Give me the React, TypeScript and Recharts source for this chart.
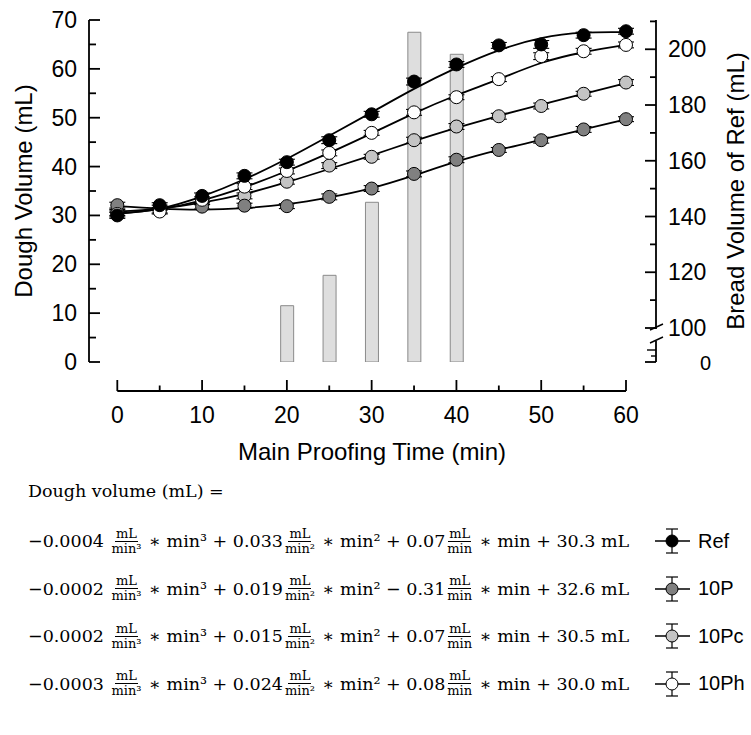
import React from 'react';
import { ComposedChart, Line, Bar, XAxis, YAxis, ErrorBar } from 'recharts';

// ---- data ----
const times = [0, 5, 10, 15, 20, 25, 30, 35, 40, 45, 50, 55, 60];

const refObs = [30.0, 32.1, 34.0, 38.1, 40.9, 45.4, 50.7, 57.4, 60.9, 64.8, 65.0, 66.9, 67.7];
const p10Obs = [32.1, 31.6, 31.8, 32.0, 31.9, 33.8, 35.5, 38.5, 41.4, 43.4, 45.4, 47.6, 49.7];
const pc10Obs = [30.6, 31.0, 32.8, 34.0, 36.9, 40.2, 42.0, 45.4, 48.2, 50.3, 52.4, 54.9, 57.2];
const ph10Obs = [30.3, 30.8, 33.2, 35.9, 39.1, 42.8, 46.9, 51.1, 54.2, 57.9, 62.6, 63.6, 64.9];

const refErr = [0.6, 0.5, 0.6, 0.6, 0.6, 0.7, 0.6, 0.7, 0.6, 0.6, 0.8, 0.6, 0.6];
const p10Err = [0.6, 0.5, 0.5, 0.5, 0.5, 0.6, 0.6, 0.6, 0.6, 0.5, 0.6, 0.6, 0.5];
const pc10Err = [0.6, 0.5, 0.6, 0.6, 0.5, 0.6, 0.5, 0.6, 0.6, 0.6, 0.6, 0.5, 0.6];
const ph10Err = [0.6, 0.5, 0.6, 0.6, 0.6, 0.6, 0.5, 0.6, 0.5, 0.5, 0.7, 0.6, 0.6];

// fitted curves
const refFit = [30.3, 31.4, 33.9, 37.4, 41.6, 46.3, 51.1, 55.9, 60.2, 63.8, 66.3, 67.4, 67.5];
const p10Fit = [31.9, 31.4, 31.2, 31.5, 32.3, 33.7, 35.6, 38.2, 41.0, 43.4, 45.5, 47.6, 49.7];
const pc10Fit = [30.8, 31.4, 32.6, 34.4, 36.8, 39.5, 42.3, 45.2, 47.9, 50.4, 52.7, 54.9, 57.1];
const ph10Fit = [30.4, 31.3, 33.1, 35.8, 39.1, 42.8, 46.8, 50.9, 54.6, 57.9, 61.2, 63.4, 64.9];

const breadTimes = [20, 25, 30, 35, 40];
const breadVol = [108.0, 118.9, 145.1, 206.1, 198.2];

const xTicks = [0, 5, 10, 15, 20, 25, 30, 35, 40, 45, 50, 55, 60];
const leftTicks = [0, 5, 10, 15, 20, 25, 30, 35, 40, 45, 50, 55, 60, 65, 70];
const rightBottom = 87.8;
const rightTop = 210.5;
const rightTicks = [rightBottom, 100, 110, 120, 130, 140, 150, 160, 170, 180, 190, 200, 210];

const seriesNames = ['Ref', '10P', '10Pc', '10Ph'];
const seriesFills = ['#000000', '#808080', '#c4c4c4', '#ffffff'];

const equationCoefs = [
  ['−0.0004', '+ 0.033', '+ 0.07', '+ 30.3 mL'],
  ['−0.0002', '+ 0.019', '− 0.31', '+ 32.6 mL'],
  ['−0.0002', '+ 0.015', '+ 0.07', '+ 30.5 mL'],
  ['−0.0003', '+ 0.024', '+ 0.08', '+ 30.0 mL'],
];

const rows = times.map((t, i) => {
  const bi = breadTimes.indexOf(t);
  return {
    t,
    refObs: refObs[i], refErr: refErr[i], refFit: refFit[i],
    p10Obs: p10Obs[i], p10Err: p10Err[i], p10Fit: p10Fit[i],
    pc10Obs: pc10Obs[i], pc10Err: pc10Err[i], pc10Fit: pc10Fit[i],
    ph10Obs: ph10Obs[i], ph10Err: ph10Err[i], ph10Fit: ph10Fit[i],
    bread: bi >= 0 ? breadVol[bi] : null,
  };
});

const SANS = '"Liberation Sans", Arial, Helvetica, sans-serif';
const SERIF = '"DejaVu Serif", "Liberation Serif", serif';
const TICK_FS = 23;
const AX_W = 1.8;

const LeftTick = (props: any) => {
  const { x, y, payload } = props;
  const v = payload.value;
  const major = v % 10 === 0;
  return (
    <g>
      <line x1={x} x2={x + (major ? 11 : 7)} y1={y} y2={y} stroke="#000" strokeWidth={AX_W} />
      {major && (
        <text x={x - 12} y={y} textAnchor="end" dominantBaseline="central" fontSize={TICK_FS} fontFamily={SANS} fill="#000">
          {v}
        </text>
      )}
    </g>
  );
};

const RightTick = (props: any) => {
  const { x, y, payload } = props;
  const v = payload.value;
  if (v === rightBottom) {
    return (
      <g>
        <line x1={x - 11} x2={x} y1={y} y2={y} stroke="#000" strokeWidth={AX_W} />
        <line x1={x - 5} x2={x} y1={y - 6} y2={y - 6} stroke="#000" strokeWidth={1.4} />
        <line x1={x - 9} x2={x} y1={y - 12} y2={y - 12} stroke="#000" strokeWidth={1.4} />
        <text x={x + 44} y={y + 1} textAnchor="start" dominantBaseline="central" fontSize={TICK_FS - 3} fontFamily={SANS} fill="#000">
          0
        </text>
      </g>
    );
  }
  const major = v % 20 === 0;
  return (
    <g>
      {v === 100 && (
        <g>
          <rect x={x - 3} y={y + 1} width={6} height={12} fill="#fff" />
          <line x1={x - 6} y1={y + 2} x2={x + 7} y2={y - 4} stroke="#000" strokeWidth={1.4} />
          <line x1={x - 6} y1={y + 15} x2={x + 7} y2={y + 9} stroke="#000" strokeWidth={1.4} />
        </g>
      )}
      <line x1={x - (major ? 11 : 6)} x2={x} y1={y} y2={y} stroke="#000" strokeWidth={AX_W} />
      {major && (
        <text x={x + 12} y={y} textAnchor="start" dominantBaseline="central" fontSize={TICK_FS} fontFamily={SANS} fill="#000">
          {v}
        </text>
      )}
    </g>
  );
};

const XTick = (props: any) => {
  const { x, y, payload } = props;
  const v = payload.value;
  const major = v % 10 === 0;
  return (
    <g>
      <line x1={x} x2={x} y1={y} y2={y - (major ? 11 : 5.5)} stroke="#000" strokeWidth={AX_W} />
      {major && (
        <text x={x} y={y + 32} textAnchor="middle" fontSize={TICK_FS} fontFamily={SANS} fill="#000">
          {v}
        </text>
      )}
    </g>
  );
};

const Frac = ({ den }: { den: string }) => (
  <span
    style={{
      display: 'inline-flex',
      flexDirection: 'column',
      alignItems: 'center',
      fontSize: 13,
      lineHeight: '14px',
      margin: '0 2px',
    }}
  >
    <span style={{ borderBottom: '1px solid #000', padding: '0 1px' }}>mL</span>
    <span>{den}</span>
  </span>
);

const EqRow = ({ coefs, top }: { coefs: string[]; top: number }) => (
  <div
    style={{
      position: 'absolute',
      left: 28,
      top: top - 20,
      height: 40,
      display: 'flex',
      alignItems: 'center',
      whiteSpace: 'pre',
      fontFamily: SERIF,
      fontSize: 17.5,
      color: '#000',
    }}
  >
    <span>{coefs[0] + ' '}</span>
    <Frac den="min³" />
    <span>{' ∗ min³ ' + coefs[1]}</span>
    <Frac den="min²" />
    <span>{' ∗ min² ' + coefs[2]}</span>
    <Frac den="min" />
    <span>{' ∗ min ' + coefs[3]}</span>
  </div>
);

const LegendItem = ({ name, fill, top }: { name: string; fill: string; top: number }) => (
  <div style={{ position: 'absolute', left: 652, top: top - 16, height: 32, display: 'flex', alignItems: 'center' }}>
    <svg width={40} height={32}>
      <line x1={3} x2={38} y1={16} y2={16} stroke="#000" strokeWidth={1.5} />
      <line x1={20} x2={20} y1={4} y2={28} stroke="#000" strokeWidth={1.2} />
      <line x1={14} x2={26} y1={4} y2={4} stroke="#000" strokeWidth={1.2} />
      <line x1={14} x2={26} y1={28} y2={28} stroke="#000" strokeWidth={1.2} />
      <circle cx={20} cy={16} r={6} fill={fill} stroke="#000" strokeWidth={1} />
    </svg>
    <span style={{ marginLeft: 6, fontFamily: SANS, fontSize: 20, color: '#000' }}>{name}</span>
  </div>
);

const markerKeys = [
  { obs: 'pc10Obs', err: 'pc10Err', fill: seriesFills[2] },
  { obs: 'p10Obs', err: 'p10Err', fill: seriesFills[1] },
  { obs: 'ph10Obs', err: 'ph10Err', fill: seriesFills[3] },
  { obs: 'refObs', err: 'refErr', fill: seriesFills[0] },
];
const fitKeys = ['pc10Fit', 'p10Fit', 'ph10Fit', 'refFit'];
const eqCenters = [541, 588.5, 636, 683.5];

export default function App() {
  return (
    <div style={{ position: 'absolute', left: 0, top: 0, width: 751, height: 735, background: '#fff', overflow: 'hidden' }}>
      <ComposedChart width={751} height={471} data={rows} margin={{ top: 20, right: 0, bottom: 0, left: 0 }}>
        <XAxis xAxisId="gap" dataKey="t" type="number" domain={[0, 60]} height={29} axisLine={false} tickLine={false} tick={false} />
        <XAxis
          xAxisId="x"
          dataKey="t"
          type="number"
          domain={[0, 60]}
          ticks={xTicks}
          interval={0}
          height={80}
          tickSize={0}
          tickMargin={0}
          tickLine={false}
          axisLine={{ stroke: '#000', strokeWidth: AX_W }}
          tick={(p: any) => <XTick {...p} />}
        />
        <YAxis yAxisId="gapL" orientation="left" width={28.3} domain={[0, 70]} axisLine={false} tickLine={false} tick={false} />
        <YAxis
          yAxisId="left"
          orientation="left"
          width={89}
          domain={[0, 70]}
          ticks={leftTicks}
          interval={0}
          tickSize={0}
          tickMargin={0}
          tickLine={false}
          axisLine={{ stroke: '#000', strokeWidth: AX_W }}
          tick={(p: any) => <LeftTick {...p} />}
        />
        <YAxis yAxisId="gapR" orientation="right" width={30} domain={[0, 70]} axisLine={false} tickLine={false} tick={false} />
        <YAxis
          yAxisId="right"
          orientation="right"
          width={95}
          domain={[rightBottom, rightTop]}
          allowDataOverflow
          ticks={rightTicks}
          interval={0}
          tickSize={0}
          tickMargin={0}
          tickLine={false}
          axisLine={{ stroke: '#000', strokeWidth: AX_W }}
          tick={(p: any) => <RightTick {...p} />}
        />
        <Bar
          xAxisId="x"
          yAxisId="right"
          dataKey="bread"
          barSize={13}
          fill="#dedede"
          stroke="#8a8a8a"
          strokeWidth={1}
          isAnimationActive={false}
        />
        {fitKeys.map((k) => (
          <Line
            key={k}
            xAxisId="x"
            yAxisId="left"
            dataKey={k}
            type="natural"
            stroke="#000"
            strokeWidth={1.8}
            dot={false}
            activeDot={false}
            isAnimationActive={false}
          />
        ))}
        {markerKeys.map((m) => (
          <Line
            key={m.obs}
            xAxisId="x"
            yAxisId="left"
            dataKey={m.obs}
            stroke="none"
            dot={{ r: 6.5, fill: m.fill, stroke: '#000', strokeWidth: 1 }}
            activeDot={false}
            isAnimationActive={false}
          >
            <ErrorBar dataKey={m.err} width={8} stroke="#000" strokeWidth={1.1} direction="y" />
          </Line>
        ))}
      </ComposedChart>

      {/* axis titles */}
      <div
        style={{
          position: 'absolute',
          left: 24,
          top: 191,
          transform: 'translate(-50%, -50%) rotate(-90deg)',
          whiteSpace: 'nowrap',
          fontFamily: SANS,
          fontSize: 24,
          lineHeight: '24px',
          color: '#000',
        }}
      >
        Dough Volume (mL)
      </div>
      <div
        style={{
          position: 'absolute',
          left: 736,
          top: 191,
          transform: 'translate(-50%, -50%) rotate(-90deg)',
          whiteSpace: 'nowrap',
          fontFamily: SANS,
          fontSize: 24,
          lineHeight: '24px',
          color: '#000',
        }}
      >
        Bread Volume of Ref (mL)
      </div>
      <div
        style={{
          position: 'absolute',
          left: 372,
          top: 440,
          transform: 'translateX(-50%)',
          whiteSpace: 'nowrap',
          fontFamily: SANS,
          fontSize: 24,
          lineHeight: '24px',
          color: '#000',
        }}
      >
        Main Proofing Time (min)
      </div>

      {/* equations */}
      <div
        style={{
          position: 'absolute',
          left: 28,
          top: 480,
          whiteSpace: 'pre',
          fontFamily: SERIF,
          fontSize: 17.5,
          lineHeight: '22px',
          color: '#000',
        }}
      >
        Dough volume (mL) =
      </div>
      {equationCoefs.map((c, i) => (
        <EqRow key={i} coefs={c} top={eqCenters[i]} />
      ))}
      {seriesNames.map((n, i) => (
        <LegendItem key={n} name={n} fill={seriesFills[i]} top={eqCenters[i]} />
      ))}
    </div>
  );
}
